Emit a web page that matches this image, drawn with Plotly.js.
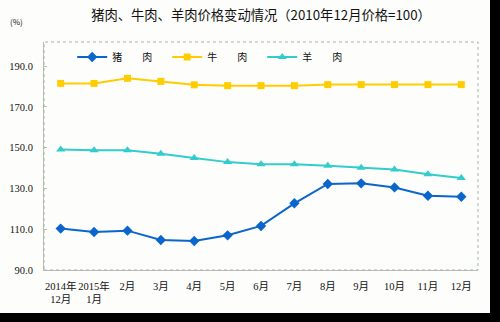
<!DOCTYPE html>
<html>
<head>
<meta charset="utf-8">
<script src="https://cdn.plot.ly/plotly-3.0.1.min.js"></script>
<style>
html,body{margin:0;padding:0;background:#000;width:500px;height:322px;overflow:hidden;}
#chart{width:490px;height:313px;}
</style>
</head>
<body>
<div id="chart"></div>
<script>
const categories = ["2014年<br>12月","2015年<br>1月","2月","3月","4月","5月","6月","7月","8月","9月","10月","11月","12月"];
const pork = [110.3, 108.6, 109.3, 104.7, 104.2, 107.0, 111.6, 122.7, 132.2, 132.5, 130.5, 126.4, 125.9];
const beef = [181.5, 181.5, 184.0, 182.5, 180.8, 180.4, 180.4, 180.4, 180.9, 180.9, 180.9, 180.9, 180.9];
const lamb = [149.1, 148.7, 148.7, 147.0, 144.9, 142.9, 141.9, 141.9, 141.1, 140.1, 139.3, 136.9, 135.1];
const seriesNames = ["猪\u3000\u3000肉\u3000", "牛\u3000\u3000肉\u3000", "羊\u3000\u3000肉"];
const yTicks = [90, 110, 130, 150, 170, 190];
const yTickText = ["90.0", "110.0", "130.0", "150.0", "170.0", "190.0"];

const idx = categories.map((c, i) => i);

const traces = [
  {x: idx, y: pork, name: seriesNames[0], mode: "lines+markers",
   line: {color: "#0a66cc", width: 2}, marker: {symbol: "diamond", size: 8, color: "#0a66cc"}},
  {x: idx, y: beef, name: seriesNames[1], mode: "lines+markers",
   line: {color: "#ffcc00", width: 2}, marker: {symbol: "square", size: 7, color: "#ffcc00"}},
  {x: idx, y: lamb, name: seriesNames[2], mode: "lines+markers",
   line: {color: "#33cccc", width: 2}, marker: {symbol: "triangle-up", size: 8, color: "#33cccc"}}
];

const layout = {
  width: 490, height: 313,
  margin: {l: 44, r: 12, t: 42, b: 43, pad: 0},
  paper_bgcolor: "#fdfefb",
  plot_bgcolor: "#fdfefb",
  showlegend: true,
  title: {text: "猪肉、牛肉、羊肉价格变动情况（2010年12月价格=100）",
          font: {family: "Noto Sans CJK SC, sans-serif", size: 13.3, color: "#111"},
          x: 0.5, xref: "paper", y: 0.952, yanchor: "middle"},
  legend: {orientation: "h", x: 0.065, xanchor: "left", y: 0.934, yanchor: "middle",
           bgcolor: "rgba(0,0,0,0)", font: {family: "Noto Sans CJK SC, sans-serif", size: 10, color: "#111"},
           tracegroupgap: 0},
  xaxis: {
    type: "linear", range: [-0.5, 12.5], tickmode: "array", tickvals: idx, ticktext: categories,
    showgrid: false, zeroline: false, showline: true, linecolor: "#b8c0b8", linewidth: 1,
    ticks: "", ticklabelstandoff: 6, tickangle: 0,
    tickfont: {family: "Liberation Serif, Noto Sans CJK SC, serif", size: 10.5, color: "#111"}
  },
  yaxis: {
    range: [90, 201.8], tickmode: "array", tickvals: yTicks, ticktext: yTickText,
    showgrid: false, zeroline: false, showline: true, linecolor: "#b8c0b8", linewidth: 1,
    ticks: "inside", ticklen: 3, tickcolor: "#b8c0b8", ticklabelstandoff: 8,
    tickfont: {family: "Liberation Serif, serif", size: 10.5, color: "#111"}
  },
  shapes: [
    {type: "rect", xref: "paper", yref: "paper", x0: 0, x1: 1, y0: 0, y1: 1,
     line: {color: "#a8b4a8", width: 1, dash: "dot"}, fillcolor: "rgba(0,0,0,0)"}
  ],
  annotations: [
    {text: "(%)", xref: "paper", yref: "paper", x: -0.064, y: 1.09, xanchor: "center", yanchor: "middle",
     showarrow: false, font: {family: "Noto Sans CJK SC, sans-serif", size: 8, color: "#111"}}
  ]
};

Plotly.newPlot("chart", traces, layout, {displayModeBar: false, staticPlot: true});
</script>
</body>
</html>
